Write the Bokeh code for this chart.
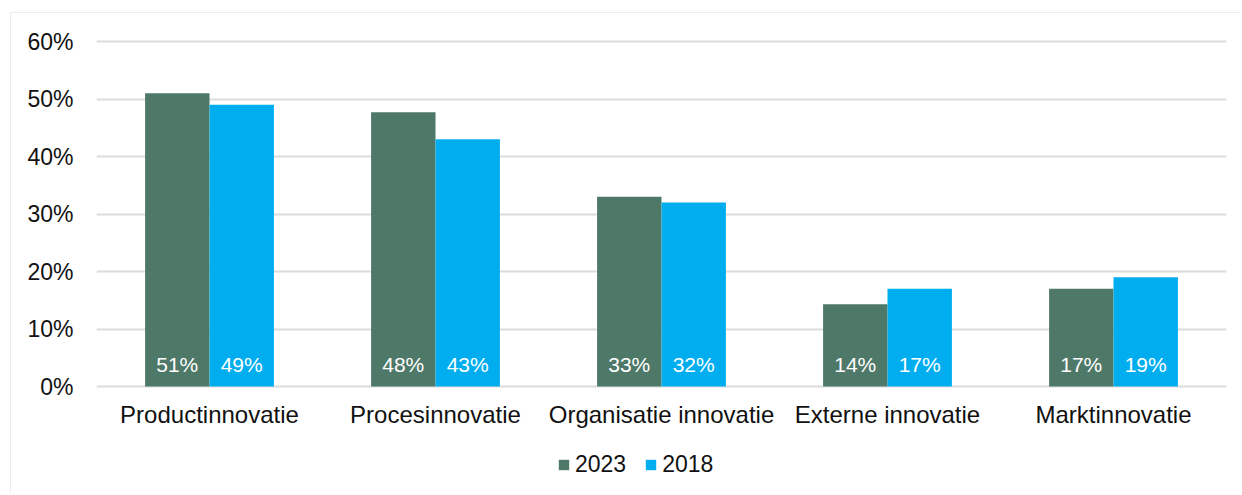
from bokeh.plotting import figure
from bokeh.models import ColumnDataSource, LabelSet, Legend, LegendItem, FixedTicker, Range1d
from bokeh.core.properties import value
from bokeh.embed import file_html
from bokeh.resources import INLINE

categories = ["Productinnovatie", "Procesinnovatie", "Organisatie innovatie", "Externe innovatie", "Marktinnovatie"]
series_names = ["2023", "2018"]
values_2023 = [51.0, 47.7, 33.0, 14.3, 17.0]
values_2018 = [49.0, 43.0, 32.0, 17.0, 19.0]
y_ticks = [0, 10, 20, 30, 40, 50, 60]
y_tick_labels = ["0%", "10%", "20%", "30%", "40%", "50%", "60%"]
colors = ["#4E7868", "#00AEEF"]

FONT = "Liberation Sans"
W, H = 1240, 493
# frame spans y=37..487 on the page; 0% sits at y=386 and 60% at y=41 (5.75 px per %)
PX = 5.75
y_low = -(487 - 386) / PX
y_high = 60 + (41 - 37) / PX

p = figure(width=W, height=H, output_backend="svg", toolbar_location=None, x_axis_type=None,
           x_range=Range1d(-0.5, len(categories) - 0.5), y_range=Range1d(y_low, y_high),
           min_border_left=96, min_border_right=W - 1226, min_border_top=37, min_border_bottom=H - 487)
p.outline_line_color = None
p.border_fill_alpha = 0
p.styles = {"box-shadow": "inset 10px 12px 0 0 #ffffff, inset 11px 13px 0 0 #ececec"}

bw = 0.285
idx = list(range(len(categories)))
src23 = ColumnDataSource(dict(x=[i - bw / 2 for i in idx], top=values_2023,
                              lab=[f"{round(v)}%" for v in values_2023]))
src18 = ColumnDataSource(dict(x=[i + bw / 2 for i in idx], top=values_2018,
                              lab=[f"{round(v)}%" for v in values_2018]))
r23 = p.vbar(x="x", top="top", bottom=0, width=bw, source=src23, fill_color=colors[0], line_color=None)
r18 = p.vbar(x="x", top="top", bottom=0, width=bw, source=src18, fill_color=colors[1], line_color=None)

for s in (src23, src18):
    p.add_layout(LabelSet(x="x", y=0, text="lab", source=s, y_offset=22,
                          text_align="center", text_baseline="middle",
                          text_color="white", text_font=value(FONT), text_font_size=value("21px")))

# category labels under the 0% line
cat_src = ColumnDataSource(dict(x=idx, y=[0] * len(idx), lab=categories))
p.add_layout(LabelSet(x="x", y="y", text="lab", source=cat_src, y_offset=-28,
                      text_align="center", text_baseline="middle",
                      text_color="#111111", text_font=value(FONT), text_font_size=value("24px")))

# y axis
p.yaxis.ticker = FixedTicker(ticks=y_ticks)
p.yaxis.major_label_overrides = {t: l for t, l in zip(y_ticks, y_tick_labels)}
p.yaxis.axis_line_color = None
p.yaxis.major_tick_line_color = None
p.yaxis.major_tick_out = 0
p.yaxis.major_tick_in = 0
p.yaxis.minor_tick_line_color = None
p.yaxis.major_label_standoff = 23
p.yaxis.major_label_text_font = FONT
p.yaxis.major_label_text_font_size = "23px"
p.yaxis.major_label_text_color = "#111111"
p.ygrid.ticker = FixedTicker(ticks=y_ticks)
p.ygrid.grid_line_color = "#dcdcdc"
p.ygrid.grid_line_width = 2
p.xgrid.grid_line_color = None

legend = Legend(items=[LegendItem(label=series_names[0], renderers=[r23]),
                       LegendItem(label=series_names[1], renderers=[r18])],
                orientation="horizontal", location=(461, 9),
                padding=0, margin=0, spacing=18, label_standoff=5,
                glyph_width=13, glyph_height=13,
                border_line_color=None, background_fill_alpha=0,
                label_text_font=FONT, label_text_font_size="23px", label_text_color="#111111")
p.add_layout(legend, "center")

open("out.html", "w").write(file_html(p, INLINE))
